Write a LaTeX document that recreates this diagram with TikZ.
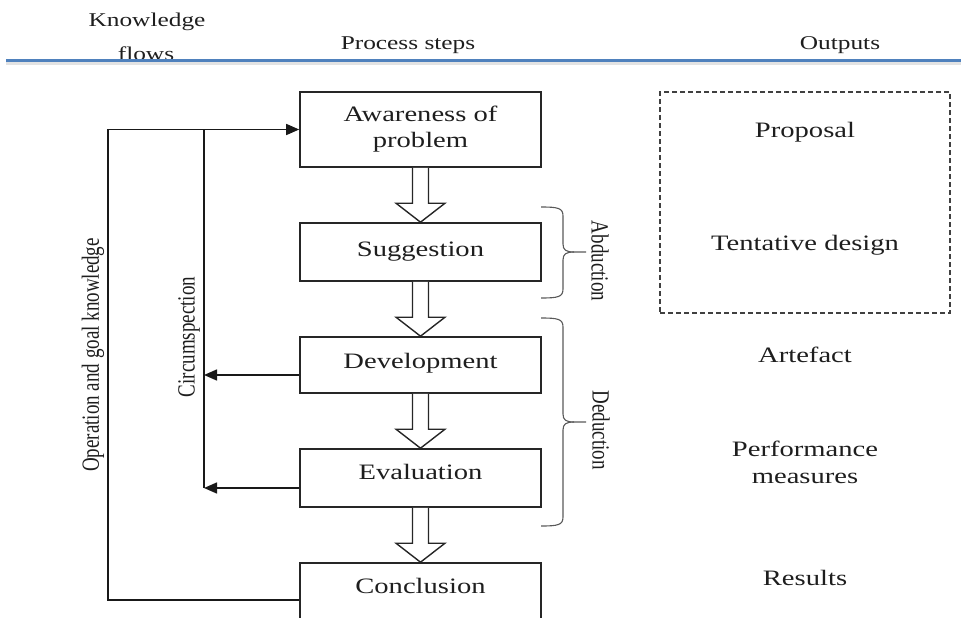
\documentclass[tikz,border=0pt]{standalone}
\usepackage{fontspec}
\usepackage{graphicx}
\setmainfont{Liberation Serif}
\usetikzlibrary{arrows.meta,calc}
\definecolor{hdrblue}{RGB}{79,129,189}
\definecolor{txt}{RGB}{30,30,30}
\newcommand{\hs}[1]{\scalebox{1.3}[1]{#1}}
\newcommand{\vs}[1]{\scalebox{1}[1.3]{#1}}
\newcommand{\blockarrow}[2]{%
  \draw[hollow] ($(#1.south)+(-8,0)$) -- ($(#2.north)+(-8,-19)$) -- ($(#2.north)+(-24.5,-19)$) -- (#2.north) -- ($(#2.north)+(24.5,-19)$) -- ($(#2.north)+(8,-19)$) -- ($(#1.south)+(8,0)$);}
\newcommand{\sidebrace}[3]{%
  \draw[bracestyle] (541,#1) .. controls (558,#1) and (563,#1+1) .. (563,#1+9) -- (563,#2-8) .. controls (563,#2-2) and (566,#2) .. (574,#2) -- (586,#2);
  \draw[bracestyle] (574,#2) .. controls (566,#2) and (563,#2+2) .. (563,#2+8) -- (563,#3-9) .. controls (563,#3-1) and (558,#3) .. (541,#3);}
\begin{document}
\begin{tikzpicture}[x=1pt,y=-1pt,
  stepbox/.style={draw=black!85, line width=1.6pt, minimum width=241pt, inner sep=0pt, align=center, font=\fontsize{22}{26}\selectfont, text=txt},
  head/.style={font=\fontsize{19.5}{22}\selectfont, text=txt, inner sep=0pt, align=center},
  outtxt/.style={font=\fontsize{22}{27}\selectfont, text=txt, inner sep=0pt, align=center},
  side/.style={font=\fontsize{19}{20}\selectfont, text=txt, inner sep=0pt},
  conn/.style={line width=1.5pt, draw=black!90},
  arr/.style={conn, -{Triangle[length=13pt,width=11pt]}},
  hollow/.style={draw=black!85, line width=1.4pt, fill=white, line join=miter},
  bracestyle/.style={draw=black!65, line width=1.1pt},
]
\useasboundingbox (0,0) rectangle (961,618);

% header
\node[head, anchor=base] (kn) at (147,27) {\hs{Knowledge}};
\node[head, anchor=base] (fl) at (146,60) {\hs{flows}};
\node[head, anchor=base] (ps) at (408,50) {\hs{Process steps}};
\node[head, anchor=base] (out) at (840,50) {\hs{Outputs}};
\draw[line width=3pt, draw=gray!22] (6,64) -- (961,64);
\draw[line width=3pt, draw=hdrblue] (6,61) -- (961,61);

% process boxes
\node[stepbox, minimum height=75pt] (aware) at (420.5,129.5) {\hs{Awareness of}\\\hs{problem}};
\node[stepbox, minimum height=58pt] (sugg) at (420.5,252) {\hs{Suggestion}};
\node[stepbox, minimum height=56pt, text depth=9pt] (dev) at (420.5,365) {\hs{Development}};
\node[stepbox, minimum height=58pt, text depth=12pt] (eval) at (420.5,478) {\hs{Evaluation}};
\node[stepbox, minimum height=60pt, text depth=14pt] (concl) at (420.5,593) {\hs{Conclusion}};

\blockarrow{aware}{sugg}
\blockarrow{sugg}{dev}
\blockarrow{dev}{eval}
\blockarrow{eval}{concl}

% knowledge flows
\coordinate (outer) at (108,0);
\coordinate (inner) at (204,0);
\coordinate (devout) at ([yshift=-10pt]dev.west);
\coordinate (evalout) at ([yshift=-10pt]eval.west);
\coordinate (conclout) at ([yshift=-7pt]concl.west);
\draw[arr] (conclout) -| (outer |- aware.west) -- (aware.west);
\draw[conn] (inner |- aware.west) -- (inner |- evalout);
\draw[arr] (devout) -- (inner |- devout);
\draw[arr] (evalout) -- (inner |- evalout);

\node[side, rotate=90] (ogk) at (93,355) {\vs{Operation and goal knowledge}};
\node[side, rotate=90] (circ) at (189,337) {\vs{Circumspection}};

% braces
\sidebrace{207}{252}{298}
\sidebrace{318}{422}{526}
\node[side, rotate=-90] (abd) at (600,261) {\vs{Abduction}};
\node[side, rotate=-90] (ded) at (601,430) {\vs{Deduction}};

% outputs
\node[draw=black!75, line width=1.3pt, dash pattern=on 5pt off 3pt, minimum width=290pt, minimum height=221pt, inner sep=0pt] (outbox) at (805,202.5) {};
\node[outtxt] (prop) at (805,132) {\hs{Proposal}};
\node[outtxt] (tent) at (805,245) {\hs{Tentative design}};
\node[outtxt] (art) at (805,355) {\hs{Artefact}};
\node[outtxt] (perf) at (805,462) {\hs{Performance}\\\hs{measures}};
\node[outtxt] (res) at (805,578) {\hs{Results}};
\end{tikzpicture}
\end{document}
